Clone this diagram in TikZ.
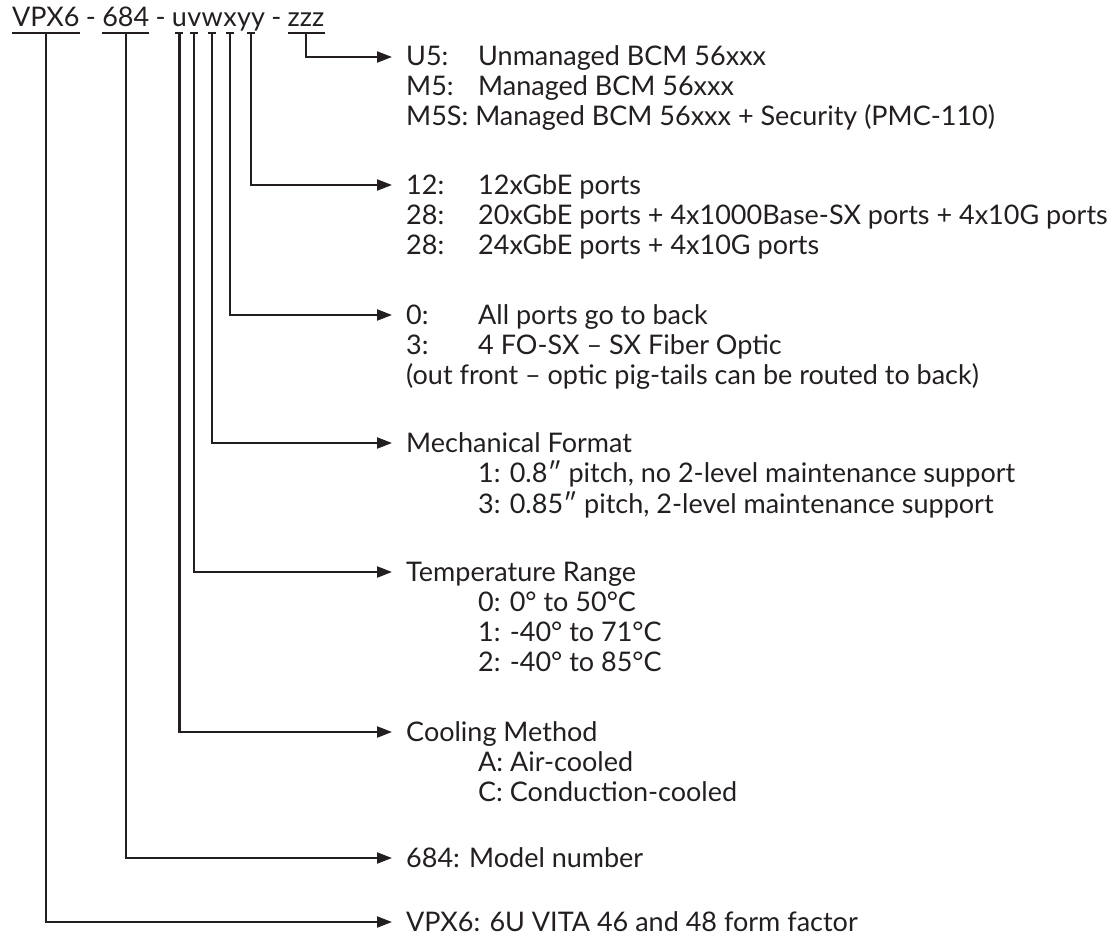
\documentclass[tikz,border=0pt]{standalone}
\usepackage{fontspec}
\setmainfont{Lato}
\usetikzlibrary{arrows.meta}
\definecolor{ink}{HTML}{231F20}
% option list: key column, then its meaning
\newcommand{\optlist}[1]{\begin{tabular}[t]{@{}p{72pt}@{}l@{}}#1\end{tabular}}
% separator between fields of the part number
\newcommand{\sepdash}{\kern0.22em-\kern0.22em}

\begin{document}
\begin{tikzpicture}[
  x=1pt,y=-1pt,
  font=\fontsize{27}{30}\selectfont,
  color=ink,
  >={Triangle[length=15pt,width=11pt]},
  code/.style={inner sep=0pt,anchor=base west},
  desc/.style={inner sep=0pt,anchor=base west},
  tap/.style={->,line width=2.2pt},
  bar/.style={line width=2.2pt},
]
\useasboundingbox (0,0) rectangle (1115,936);
% part number, one node per field
\node[code] (fvpx)   at (12,27)          {VPX6};
\node[code] (d1)     at (fvpx.base east) {\sepdash};
\node[code] (fmodel) at (d1.base east)   {684};
\node[code] (d2)     at (fmodel.base east) {\sepdash};
\node[code] (fu)     at (d2.base east)   {u};
\node[code] (fv)     at (fu.base east)   {v};
\node[code] (fw)     at (fv.base east)   {w};
\node[code] (fx)     at (fw.base east)   {x};
\node[code] (fyy)    at (fx.base east)   {yy};
\node[code] (d3)     at (fyy.base east)  {\sepdash};
\node[code] (fzzz)   at (d3.base east)   {zzz};
\coordinate (barline) at (0,33);
% option descriptions
\node[desc] (bzzz) at (406,66) {\optlist{%
  U5: & Unmanaged BCM 56xxx\\
  M5: & Managed BCM 56xxx\\
  \multicolumn{2}{@{}l@{}}{M5S: Managed BCM 56xxx + Security (PMC-110)}}};
\node[desc] (byy) at (406,194) {\optlist{%
  12: & 12xGbE ports\\
  28: & 20xGbE ports + 4x1000Base-SX ports + 4x10G ports\\
  28: & 24xGbE ports + 4x10G ports}};
\node[desc] (bx) at (406,324) {\optlist{%
  0: & All ports go to back\\
  3: & 4 FO-SX – SX Fiber Optic\\
  \multicolumn{2}{@{}l@{}}{(out front – optic pig-tails can be routed to back)}}};
\node[desc] (bw) at (406,452) {\optlist{%
  \multicolumn{2}{@{}l@{}}{Mechanical Format}\\
  & 1: 0.8″ pitch, no 2-level maintenance support\\
  & 3: 0.85″ pitch, 2-level maintenance support}};
\node[desc] (bv) at (406,581) {\optlist{%
  \multicolumn{2}{@{}l@{}}{Temperature Range}\\
  & 0: 0° to 50°C\\
  & 1: -40° to 71°C\\
  & 2: -40° to 85°C}};
\node[desc] (bu) at (406,741) {\optlist{%
  \multicolumn{2}{@{}l@{}}{Cooling Method}\\
  & A: Air-cooled\\
  & C: Conduction-cooled}};
\node[desc] (bmodel) at (406,867) {684: Model number};
\node[desc] (bvpx)   at (406,931) {VPX6: 6U VITA 46 and 48 form factor};
% ---- underlines and ticks ----
\draw[bar] (fvpx.west |- barline) -- (fvpx.east |- barline);
\draw[bar] (fmodel.west |- barline) -- (fmodel.east |- barline);
\draw[bar] (fzzz.west |- barline) -- (fzzz.east |- barline);
\foreach \f in {fu,fv,fw,fx,fyy}
  \draw[bar] ([xshift=-4pt]\f.south |- barline) -- ([xshift=4pt]\f.south |- barline);
% ---- arrows ----
\draw[tap] (fzzz.south |- barline)   |- ([xshift=-14pt,yshift=9pt]bzzz.base west);
\draw[tap] (fyy.south |- barline)    |- ([xshift=-14pt,yshift=9pt]byy.base west);
\draw[tap] (fx.south |- barline)     |- ([xshift=-14pt,yshift=9pt]bx.base west);
\draw[tap] (fw.south |- barline)     |- ([xshift=-14pt,yshift=9pt]bw.base west);
\draw[tap] (fv.south |- barline)     |- ([xshift=-14pt,yshift=9pt]bv.base west);
\draw[tap] (fu.south |- barline)     |- ([xshift=-14pt,yshift=9pt]bu.base west);
\draw[tap] (fmodel.south |- barline) |- ([xshift=-14pt,yshift=9pt]bmodel.base west);
\draw[tap] (fvpx.south |- barline)   |- ([xshift=-14pt,yshift=9pt]bvpx.base west);
\end{tikzpicture}
\end{document}
